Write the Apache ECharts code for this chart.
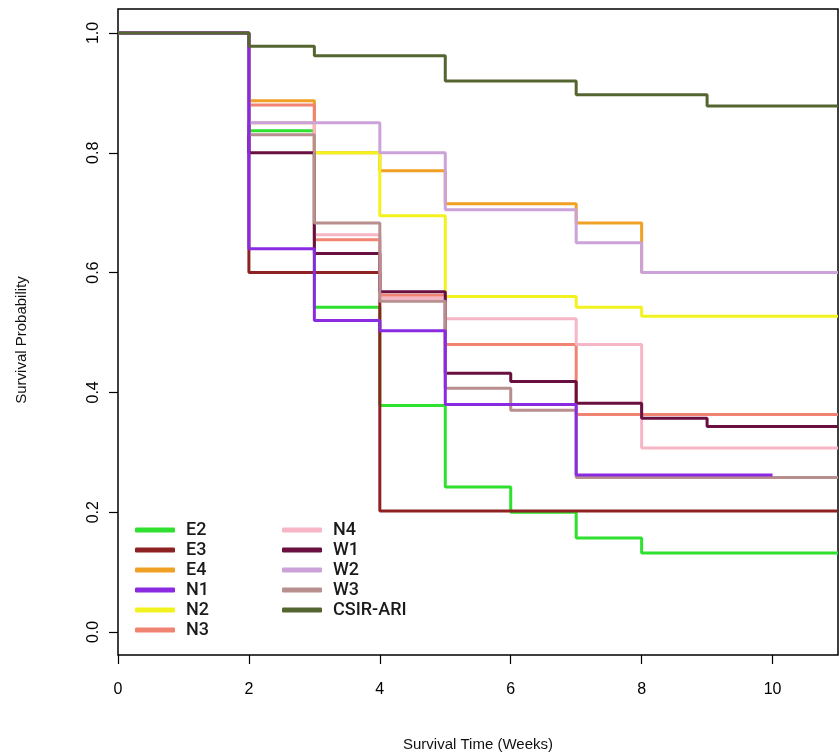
<!DOCTYPE html>
<html>
<head>
<meta charset="utf-8">
<script src="https://cdn.jsdelivr.net/npm/echarts@6/dist/echarts.min.js"></script>
<style>
html,body{margin:0;padding:0;background:#fff;}
#chart{width:839px;height:756px;}
</style>
</head>
<body>
<div id="chart"></div>
<script>
// Kaplan–Meier step data: event times (weeks) and survival probability after each time
const seriesNames = ["E2","E3","E4","N1","N2","N3","N4","W1","W2","W3","CSIR-ARI"];
const E2_t = [0,2,3,4,5,6,7,8,11];          const E2_s = [1,0.837,0.542,0.378,0.242,0.2,0.157,0.132,0.132];
const E3_t = [0,2,4,11];                    const E3_s = [1,0.6,0.202,0.202];
const E4_t = [0,2,3,4,5,7,8,11];            const E4_s = [1,0.887,0.8,0.77,0.715,0.683,0.6,0.6];
const N1_t = [0,2,3,4,5,7,10];              const N1_s = [1,0.64,0.52,0.503,0.38,0.262,0.262];
const N2_t = [0,2,3,4,5,7,8,11];            const N2_s = [1,0.85,0.8,0.695,0.56,0.542,0.527,0.527];
const N3_t = [0,2,3,4,5,7,11];              const N3_s = [1,0.88,0.655,0.562,0.48,0.363,0.363];
const N4_t = [0,2,3,4,5,7,8,11];            const N4_s = [1,0.85,0.663,0.557,0.523,0.48,0.307,0.307];
const W1_t = [0,2,3,4,5,6,7,8,9,11];        const W1_s = [1,0.8,0.632,0.568,0.432,0.418,0.382,0.357,0.343,0.343];
const W2_t = [0,2,4,5,7,8,11];              const W2_s = [1,0.85,0.8,0.705,0.65,0.6,0.6];
const W3_t = [0,2,3,4,5,6,7,11];            const W3_s = [1,0.83,0.683,0.552,0.407,0.37,0.258,0.258];
const CSIR_t = [0,2,3,5,7,9,11];            const CSIR_s = [1,0.978,0.962,0.92,0.897,0.878,0.878];

const xTicks = [0,2,4,6,8,10];

const colors = {
  "E2":"#2fe02f","E3":"#8e2222","E4":"#f0a024","N1":"#8a2be2","N2":"#f2f21e",
  "N3":"#f08372","N4":"#f7b6c6","W1":"#6a1040","W2":"#cba2da","W3":"#b88e8e","CSIR-ARI":"#556530"
};
const dataMap = {
  "E2":[E2_t,E2_s],"E3":[E3_t,E3_s],"E4":[E4_t,E4_s],"N1":[N1_t,N1_s],"N2":[N2_t,N2_s],
  "N3":[N3_t,N3_s],"N4":[N4_t,N4_s],"W1":[W1_t,W1_s],"W2":[W2_t,W2_s],"W3":[W3_t,W3_s],
  "CSIR-ARI":[CSIR_t,CSIR_s]
};
// drawing order (later = on top)
const drawOrder = ["E2","E3","E4","N2","N3","N4","W1","W2","W3","N1","CSIR-ARI"];

const series = drawOrder.map(n => ({
  name: n,
  type: 'line',
  step: 'end',
  symbol: 'none',
  xAxisIndex: 0,
  yAxisIndex: 0,
  clip: false,
  data: dataMap[n][0].map((t,i)=>[t, dataMap[n][1][i]]),
  lineStyle: {width: 3, color: colors[n]},
  itemStyle: {color: colors[n]},
  emphasis: {disabled: true}
}));

const chart = echarts.init(document.getElementById('chart'));
const legendBase = {
  orient: 'vertical',
  icon: 'roundRect',
  itemWidth: 40,
  itemHeight: 5,
  itemGap: 2,
  textStyle: {fontFamily: 'Roboto', fontSize: 18, fontWeight: 500, color: '#1a1a1a', padding: [0,0,0,6]},
  backgroundColor: 'rgba(255,255,255,0)',
  padding: 0,
  selectedMode: false
};
chart.setOption({
  animation: false,
  backgroundColor: '#fff',
  grid: [
    {left: 118, top: 33, right: 1, bottom: 124, show: false},
    {left: 118, top: 9, right: 1, bottom: 101, show: true, borderColor: '#000', borderWidth: 1.5, backgroundColor: 'transparent'}
  ],
  xAxis: [
    {gridIndex: 0, type: 'value', min: 0, max: 11, show: false},
    {gridIndex: 1, type: 'value', min: 0, max: 11,
      axisLine: {show: false, onZero: false},
      splitLine: {show: false},
      axisTick: {show: true, length: 9, lineStyle: {color: '#000', width: 1.2}, customValues: xTicks},
      axisLabel: {customValues: xTicks, color: '#000', fontFamily: 'Liberation Sans', fontSize: 16, margin: 27}}
  ],
  yAxis: [
    // ticks only
    {gridIndex: 0, type: 'value', min: 0, max: 1, interval: 0.2, position: 'left',
      axisLine: {show: false, onZero: false},
      splitLine: {show: false},
      axisTick: {show: true, length: 9, lineStyle: {color: '#000', width: 1.2}},
      axisLabel: {show: false}},
    // rotated labels only
    {gridIndex: 0, type: 'value', min: 0, max: 1, interval: 0.2, position: 'left', offset: 0,
      axisLine: {show: false, onZero: false},
      splitLine: {show: false},
      axisTick: {show: false},
      axisLabel: {show: true, rotate: 90, color: '#000', fontFamily: 'Liberation Sans', fontSize: 16, margin: 16,
        formatter: v => v.toFixed(1)}},
    {gridIndex: 1, type: 'value', min: 0, max: 1, show: false}
  ],
  legend: [
    Object.assign({}, legendBase, {left: 135, top: 521, data: ["E2","E3","E4","N1","N2","N3"]}),
    Object.assign({}, legendBase, {left: 282, top: 521, data: ["N4","W1","W2","W3","CSIR-ARI"]})
  ],
  graphic: [
    {type: 'text', x: 478, y: 745, style: {text: 'Survival Time (Weeks)', fontFamily: 'Liberation Sans', fontSize: 15, fill: '#111', align: 'center', verticalAlign: 'middle'}},
    {type: 'text', x: 22, y: 340, rotation: Math.PI/2, style: {text: 'Survival Probability', fontFamily: 'Liberation Sans', fontSize: 15, fill: '#111', align: 'center', verticalAlign: 'middle'}}
  ],
  series: series
});
</script>
</body>
</html>
